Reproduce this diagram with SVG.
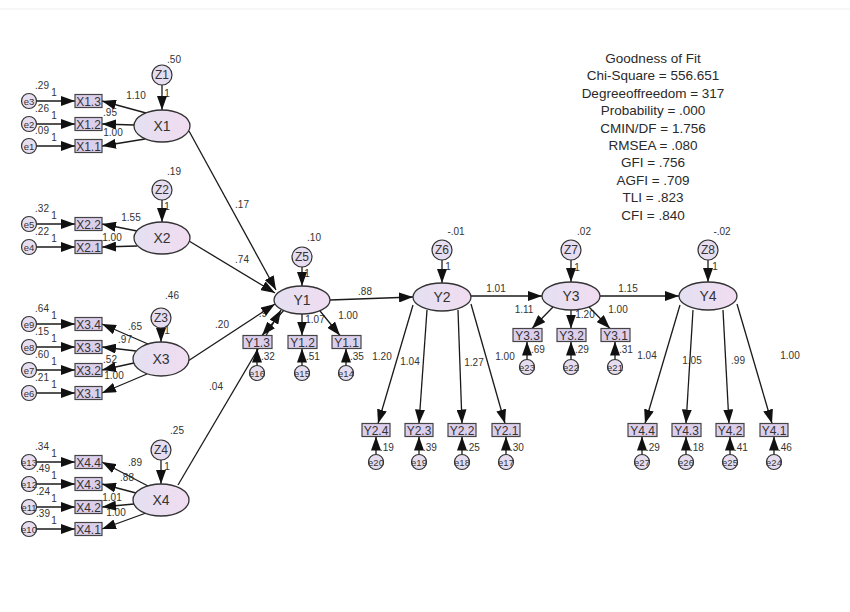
<svg xmlns="http://www.w3.org/2000/svg" width="850" height="612" viewBox="0 0 850 612">
<defs>
<linearGradient id="lg" x1="0" y1="0" x2="1" y2="0">
<stop offset="0" stop-color="#e4e0f1"/><stop offset="1" stop-color="#f1dcf1"/>
</linearGradient>
<marker id="ah" markerUnits="userSpaceOnUse" markerWidth="14" markerHeight="10" refX="14" refY="5" orient="auto">
<path d="M0,0 L14,5 L0,10 z" fill="#111"/>
</marker>
</defs>
<style>
.lat{fill:url(#lg);stroke:#333;stroke-width:1.3}
.box{fill:#dccfec;stroke:#444;stroke-width:1.2}
.err{fill:#e6def0;stroke:#333;stroke-width:1.2}
.c line{stroke:#1a1a1a;stroke-width:1.3;marker-end:url(#ah)}
text{font-family:"Liberation Sans",Arial,sans-serif;fill:#333}
.n{font-size:14px;text-anchor:middle}
.b{font-size:12px;text-anchor:middle}
.e{font-size:9.5px;text-anchor:middle}
.l{font-size:10px;text-anchor:middle}
.s{font-size:10px}
.g{font-size:13.5px;text-anchor:middle;fill:#2a2a2a}
</style>
<rect width="850" height="612" fill="#fff"/>
<line x1="0" y1="9" x2="850" y2="9" stroke="#eee"/>

<g id="labels">
<text class="l" x="174" y="63">.50</text><text class="l" x="174" y="175">.19</text><text class="l" x="172" y="299">.46</text><text class="l" x="177" y="434">.25</text>
<text class="l" x="314" y="241">.10</text><text class="l" x="456" y="235">-.01</text><text class="l" x="584" y="235">.02</text><text class="l" x="722" y="235">-.02</text>
<text class="l" x="167" y="97">1</text><text class="l" x="167" y="210">1</text><text class="l" x="167" y="334">1</text><text class="l" x="167" y="470">1</text>
<text class="l" x="307" y="277">1</text><text class="l" x="448" y="270">1</text><text class="l" x="577" y="271">1</text><text class="l" x="715" y="270">1</text>
<text class="l" x="42" y="89">.29</text><text class="l" x="54" y="96">1</text>
<text class="l" x="42" y="112">.26</text><text class="l" x="54" y="119">1</text>
<text class="l" x="42" y="134">.09</text><text class="l" x="54" y="141">1</text>
<text class="l" x="42" y="212">.32</text><text class="l" x="54" y="219">1</text>
<text class="l" x="42" y="235">.22</text><text class="l" x="54" y="242">1</text>
<text class="l" x="42" y="312">.64</text><text class="l" x="54" y="319">1</text>
<text class="l" x="42" y="335">.15</text><text class="l" x="54" y="342">1</text>
<text class="l" x="42" y="358">.60</text><text class="l" x="54" y="365">1</text>
<text class="l" x="42" y="381">.21</text><text class="l" x="54" y="388">1</text>
<text class="l" x="42" y="450">.34</text><text class="l" x="54" y="457">1</text>
<text class="l" x="43" y="472">.49</text><text class="l" x="54" y="479">1</text>
<text class="l" x="43" y="495">.24</text><text class="l" x="54" y="502">1</text>
<text class="l" x="43" y="517">.39</text><text class="l" x="54" y="524">1</text>
<text class="l" x="136" y="99">1.10</text><text class="l" x="110" y="116">.95</text><text class="l" x="113" y="136">1.00</text>
<text class="l" x="131" y="221">1.55</text><text class="l" x="112" y="241">1.00</text>
<text class="l" x="135" y="330">.65</text><text class="l" x="125" y="343">.97</text><text class="l" x="110" y="363">.52</text><text class="l" x="114" y="379">1.00</text>
<text class="l" x="135" y="466">.89</text><text class="l" x="127" y="481">.88</text><text class="l" x="112" y="501">1.01</text><text class="l" x="116" y="516">1.00</text>
<text class="l" x="242" y="208">.17</text><text class="l" x="242" y="263">.74</text><text class="l" x="222" y="328">.20</text><text class="l" x="216" y="390">.04</text>
<text class="l" x="365" y="295">.88</text><text class="l" x="496" y="292">1.01</text><text class="l" x="628" y="292">1.15</text>
<text class="l" x="263" y="317">.9</text><text class="l" x="315" y="323">1.07</text><text class="l" x="348" y="319">1.00</text>
<text class="s" x="261" y="360">.32</text><text class="s" x="306" y="360">.51</text><text class="s" x="350" y="360">.35</text>
<text class="l" x="382" y="360">1.20</text><text class="l" x="410" y="365">1.04</text><text class="l" x="474" y="366">1.27</text><text class="l" x="505" y="360">1.00</text>
<text class="s" x="380" y="451">.19</text><text class="s" x="423" y="451">.39</text><text class="s" x="466" y="451">.25</text><text class="s" x="510" y="451">.30</text>
<text class="l" x="524" y="313">1.11</text><text class="l" x="585" y="318">1.20</text><text class="l" x="618" y="313">1.00</text>
<text class="s" x="531" y="353">.69</text><text class="s" x="575" y="353">.29</text><text class="s" x="619" y="353">.31</text>
<text class="l" x="647" y="359">1.04</text><text class="l" x="692" y="364">1.05</text><text class="l" x="738" y="364">.99</text><text class="l" x="790" y="359">1.00</text>
<text class="s" x="646" y="451">.29</text><text class="s" x="690" y="451">.18</text><text class="s" x="734" y="451">.41</text><text class="s" x="778" y="451">.46</text>
</g>

<g id="fit">
<text class="g" x="653" y="63">Goodness of Fit</text>
<text class="g" x="653" y="80.4">Chi-Square = 556.651</text>
<text class="g" x="653" y="97.8">Degreeoffreedom = 317</text>
<text class="g" x="653" y="115.2">Probability = .000</text>
<text class="g" x="653" y="132.6">CMIN/DF = 1.756</text>
<text class="g" x="653" y="150">RMSEA = .080</text>
<text class="g" x="653" y="167.4">GFI = .756</text>
<text class="g" x="653" y="184.8">AGFI = .709</text>
<text class="g" x="653" y="202.2">TLI = .823</text>
<text class="g" x="653" y="219.6">CFI = .840</text>
</g>

<g id="connectors" class="c">
<line x1="162" y1="85" x2="162" y2="110"/>
<line x1="162" y1="200" x2="162" y2="222"/>
<line x1="161" y1="328" x2="161" y2="342"/>
<line x1="161" y1="460" x2="161" y2="484"/>
<line x1="302" y1="267" x2="302" y2="286"/>
<line x1="442" y1="260" x2="442" y2="283"/>
<line x1="571" y1="260" x2="571" y2="282"/>
<line x1="708" y1="260" x2="708" y2="282"/>
<line x1="36" y1="101" x2="75" y2="101"/><line x1="36" y1="124" x2="75" y2="124"/><line x1="36" y1="146" x2="75" y2="146"/>
<line x1="36" y1="224" x2="75" y2="224"/><line x1="36" y1="247" x2="75" y2="247"/>
<line x1="36" y1="324" x2="75" y2="324"/><line x1="36" y1="347" x2="75" y2="347"/><line x1="36" y1="370" x2="75" y2="370"/><line x1="36" y1="393" x2="75" y2="393"/>
<line x1="36" y1="462" x2="75" y2="462"/><line x1="36" y1="484" x2="75" y2="484"/><line x1="36" y1="507" x2="75" y2="507"/><line x1="36" y1="529" x2="75" y2="529"/>
<line x1="146" y1="113" x2="102" y2="101"/><line x1="134" y1="125" x2="102" y2="124"/><line x1="145" y1="139" x2="102" y2="146"/>
<line x1="137" y1="231" x2="102" y2="224"/><line x1="137" y1="246" x2="102" y2="247"/>
<line x1="148" y1="344" x2="102" y2="324"/><line x1="136" y1="351" x2="102" y2="347"/><line x1="134" y1="363" x2="102" y2="370"/><line x1="147" y1="374" x2="102" y2="393"/>
<line x1="148" y1="486" x2="102" y2="462"/><line x1="136" y1="493" x2="102" y2="484"/><line x1="134" y1="504" x2="102" y2="507"/><line x1="146" y1="513" x2="102" y2="529"/>
<line x1="189" y1="131" x2="276" y2="290"/>
<line x1="189" y1="241" x2="275" y2="293"/>
<line x1="188" y1="361" x2="275" y2="304"/>
<line x1="178" y1="485" x2="281" y2="310"/>
<line x1="330" y1="300" x2="413" y2="297"/>
<line x1="471" y1="296" x2="542" y2="296"/>
<line x1="600" y1="296" x2="679" y2="296"/>
<line x1="284" y1="310" x2="262" y2="335.5"/><line x1="302" y1="314" x2="302" y2="335.5"/><line x1="320" y1="311" x2="340" y2="335.5"/>
<line x1="257" y1="366" x2="257" y2="348.5"/><line x1="302" y1="366" x2="302" y2="348.5"/><line x1="346" y1="366" x2="346" y2="348.5"/>
<line x1="413" y1="305" x2="378" y2="423.5"/><line x1="427" y1="310" x2="419" y2="423.5"/><line x1="458" y1="310" x2="462" y2="423.5"/><line x1="471" y1="304" x2="505" y2="423.5"/>
<line x1="376" y1="455" x2="376" y2="436.5"/><line x1="419" y1="455" x2="419" y2="436.5"/><line x1="462" y1="455" x2="462" y2="436.5"/><line x1="506" y1="455" x2="506" y2="436.5"/>
<line x1="553" y1="307" x2="532" y2="328.5"/><line x1="571" y1="310" x2="571" y2="328.5"/><line x1="589" y1="307" x2="610" y2="328.5"/>
<line x1="527" y1="360" x2="527" y2="341.5"/><line x1="571" y1="360" x2="571" y2="341.5"/><line x1="615" y1="360" x2="615" y2="341.5"/>
<line x1="680" y1="305" x2="645" y2="423.5"/><line x1="693" y1="310" x2="686" y2="423.5"/><line x1="723" y1="310" x2="729" y2="423.5"/><line x1="737" y1="304" x2="772" y2="423.5"/>
<line x1="642" y1="455" x2="642" y2="436.5"/><line x1="686" y1="455" x2="686" y2="436.5"/><line x1="730" y1="455" x2="730" y2="436.5"/><line x1="774" y1="455" x2="774" y2="436.5"/>
</g>

<g id="X1"><ellipse class="lat" cx="162" cy="126" rx="28" ry="16"/><text class="n" x="162" y="131">X1</text></g>
<g id="X2"><ellipse class="lat" cx="162" cy="238" rx="28" ry="16"/><text class="n" x="162" y="243">X2</text></g>
<g id="X3"><ellipse class="lat" cx="161" cy="359" rx="28" ry="17"/><text class="n" x="161" y="364">X3</text></g>
<g id="X4"><ellipse class="lat" cx="161" cy="500" rx="28" ry="16"/><text class="n" x="161" y="505">X4</text></g>
<g id="Y1"><ellipse class="lat" cx="302" cy="300" rx="28" ry="14"/><text class="n" x="302" y="305">Y1</text></g>
<g id="Y2"><ellipse class="lat" cx="442" cy="297" rx="29" ry="14"/><text class="n" x="442" y="302">Y2</text></g>
<g id="Y3"><ellipse class="lat" cx="571" cy="296" rx="29" ry="14"/><text class="n" x="571" y="301">Y3</text></g>
<g id="Y4"><ellipse class="lat" cx="708" cy="296" rx="29" ry="14"/><text class="n" x="708" y="301">Y4</text></g>

<g id="Z1"><circle class="err" cx="162" cy="75" r="10"/><text class="b" x="162" y="79">Z1</text></g>
<g id="Z2"><circle class="err" cx="162" cy="190" r="10"/><text class="b" x="162" y="194">Z2</text></g>
<g id="Z3"><circle class="err" cx="161" cy="318" r="10"/><text class="b" x="161" y="322">Z3</text></g>
<g id="Z4"><circle class="err" cx="161" cy="450" r="10"/><text class="b" x="161" y="454">Z4</text></g>
<g id="Z5"><circle class="err" cx="302" cy="257" r="10"/><text class="b" x="302" y="261">Z5</text></g>
<g id="Z6"><circle class="err" cx="442" cy="250" r="10"/><text class="b" x="442" y="254">Z6</text></g>
<g id="Z7"><circle class="err" cx="571" cy="250" r="10"/><text class="b" x="571" y="254">Z7</text></g>
<g id="Z8"><circle class="err" cx="708" cy="250" r="10"/><text class="b" x="708" y="254">Z8</text></g>

<g id="X1.3"><rect class="box" x="75" y="94.5" width="27" height="13"/><text class="b" x="88.5" y="105.5">X1.3</text></g>
<g id="X1.2"><rect class="box" x="75" y="117.5" width="27" height="13"/><text class="b" x="88.5" y="128.5">X1.2</text></g>
<g id="X1.1"><rect class="box" x="75" y="139.5" width="27" height="13"/><text class="b" x="88.5" y="150.5">X1.1</text></g>
<g id="X2.2"><rect class="box" x="75" y="217.5" width="27" height="13"/><text class="b" x="88.5" y="228.5">X2.2</text></g>
<g id="X2.1"><rect class="box" x="75" y="240.5" width="27" height="13"/><text class="b" x="88.5" y="251.5">X2.1</text></g>
<g id="X3.4"><rect class="box" x="75" y="317.5" width="27" height="13"/><text class="b" x="88.5" y="328.5">X3.4</text></g>
<g id="X3.3"><rect class="box" x="75" y="340.5" width="27" height="13"/><text class="b" x="88.5" y="351.5">X3.3</text></g>
<g id="X3.2"><rect class="box" x="75" y="363.5" width="27" height="13"/><text class="b" x="88.5" y="374.5">X3.2</text></g>
<g id="X3.1"><rect class="box" x="75" y="386.5" width="27" height="13"/><text class="b" x="88.5" y="397.5">X3.1</text></g>
<g id="X4.4"><rect class="box" x="75" y="455.5" width="27" height="13"/><text class="b" x="88.5" y="466.5">X4.4</text></g>
<g id="X4.3"><rect class="box" x="75" y="477.5" width="27" height="13"/><text class="b" x="88.5" y="488.5">X4.3</text></g>
<g id="X4.2"><rect class="box" x="75" y="500.5" width="27" height="13"/><text class="b" x="88.5" y="511.5">X4.2</text></g>
<g id="X4.1"><rect class="box" x="75" y="522.5" width="27" height="13"/><text class="b" x="88.5" y="533.5">X4.1</text></g>
<g id="Y1.3"><rect class="box" x="243" y="335.5" width="29" height="13"/><text class="b" x="257.5" y="346.5">Y1.3</text></g>
<g id="Y1.2"><rect class="box" x="288" y="335.5" width="29" height="13"/><text class="b" x="302.5" y="346.5">Y1.2</text></g>
<g id="Y1.1"><rect class="box" x="332" y="335.5" width="29" height="13"/><text class="b" x="346.5" y="346.5">Y1.1</text></g>
<g id="Y2.4"><rect class="box" x="362" y="423.5" width="28" height="13"/><text class="b" x="376" y="434.5">Y2.4</text></g>
<g id="Y2.3"><rect class="box" x="405" y="423.5" width="28" height="13"/><text class="b" x="419" y="434.5">Y2.3</text></g>
<g id="Y2.2"><rect class="box" x="448" y="423.5" width="28" height="13"/><text class="b" x="462" y="434.5">Y2.2</text></g>
<g id="Y2.1"><rect class="box" x="492" y="423.5" width="28" height="13"/><text class="b" x="506" y="434.5">Y2.1</text></g>
<g id="Y3.3"><rect class="box" x="513" y="328.5" width="29" height="13"/><text class="b" x="527.5" y="339.5">Y3.3</text></g>
<g id="Y3.2"><rect class="box" x="557" y="328.5" width="29" height="13"/><text class="b" x="571.5" y="339.5">Y3.2</text></g>
<g id="Y3.1"><rect class="box" x="601" y="328.5" width="29" height="13"/><text class="b" x="615.5" y="339.5">Y3.1</text></g>
<g id="Y4.4"><rect class="box" x="628" y="423.5" width="29" height="13"/><text class="b" x="642.5" y="434.5">Y4.4</text></g>
<g id="Y4.3"><rect class="box" x="672" y="423.5" width="29" height="13"/><text class="b" x="686.5" y="434.5">Y4.3</text></g>
<g id="Y4.2"><rect class="box" x="716" y="423.5" width="28" height="13"/><text class="b" x="730" y="434.5">Y4.2</text></g>
<g id="Y4.1"><rect class="box" x="760" y="423.5" width="28" height="13"/><text class="b" x="774" y="434.5">Y4.1</text></g>

<g id="e3"><circle class="err" cx="29" cy="101" r="7.5"/><text class="e" x="29" y="104.5">e3</text></g>
<g id="e2"><circle class="err" cx="29" cy="124" r="7.5"/><text class="e" x="29" y="127.5">e2</text></g>
<g id="e1"><circle class="err" cx="29" cy="146" r="7.5"/><text class="e" x="29" y="149.5">e1</text></g>
<g id="e5"><circle class="err" cx="29" cy="224" r="7.5"/><text class="e" x="29" y="227.5">e5</text></g>
<g id="e4"><circle class="err" cx="29" cy="247" r="7.5"/><text class="e" x="29" y="250.5">e4</text></g>
<g id="e9"><circle class="err" cx="29" cy="324" r="7.5"/><text class="e" x="29" y="327.5">e9</text></g>
<g id="e8"><circle class="err" cx="29" cy="347" r="7.5"/><text class="e" x="29" y="350.5">e8</text></g>
<g id="e7"><circle class="err" cx="29" cy="370" r="7.5"/><text class="e" x="29" y="373.5">e7</text></g>
<g id="e6"><circle class="err" cx="29" cy="393" r="7.5"/><text class="e" x="29" y="396.5">e6</text></g>
<g id="e13"><circle class="err" cx="29" cy="462" r="7.5"/><text class="e" x="29" y="465.5">e13</text></g>
<g id="e12"><circle class="err" cx="29" cy="484" r="7.5"/><text class="e" x="29" y="487.5">e12</text></g>
<g id="e11"><circle class="err" cx="29" cy="507" r="7.5"/><text class="e" x="29" y="510.5">e11</text></g>
<g id="e10"><circle class="err" cx="29" cy="529" r="7.5"/><text class="e" x="29" y="532.5">e10</text></g>
<g id="e16"><circle class="err" cx="257" cy="373" r="7.5"/><text class="e" x="257" y="376.5">e16</text></g>
<g id="e15"><circle class="err" cx="302" cy="373" r="7.5"/><text class="e" x="302" y="376.5">e15</text></g>
<g id="e14"><circle class="err" cx="346" cy="373" r="7.5"/><text class="e" x="346" y="376.5">e14</text></g>
<g id="e20"><circle class="err" cx="376" cy="462" r="7.5"/><text class="e" x="376" y="465.5">e20</text></g>
<g id="e19"><circle class="err" cx="419" cy="462" r="7.5"/><text class="e" x="419" y="465.5">e19</text></g>
<g id="e18"><circle class="err" cx="462" cy="462" r="7.5"/><text class="e" x="462" y="465.5">e18</text></g>
<g id="e17"><circle class="err" cx="506" cy="462" r="7.5"/><text class="e" x="506" y="465.5">e17</text></g>
<g id="e23"><circle class="err" cx="527" cy="367" r="7.5"/><text class="e" x="527" y="370.5">e23</text></g>
<g id="e22"><circle class="err" cx="571" cy="367" r="7.5"/><text class="e" x="571" y="370.5">e22</text></g>
<g id="e21"><circle class="err" cx="615" cy="367" r="7.5"/><text class="e" x="615" y="370.5">e21</text></g>
<g id="e27"><circle class="err" cx="642" cy="462" r="7.5"/><text class="e" x="642" y="465.5">e27</text></g>
<g id="e26"><circle class="err" cx="686" cy="462" r="7.5"/><text class="e" x="686" y="465.5">e26</text></g>
<g id="e25"><circle class="err" cx="730" cy="462" r="7.5"/><text class="e" x="730" y="465.5">e25</text></g>
<g id="e24"><circle class="err" cx="774" cy="462" r="7.5"/><text class="e" x="774" y="465.5">e24</text></g>
</svg>
